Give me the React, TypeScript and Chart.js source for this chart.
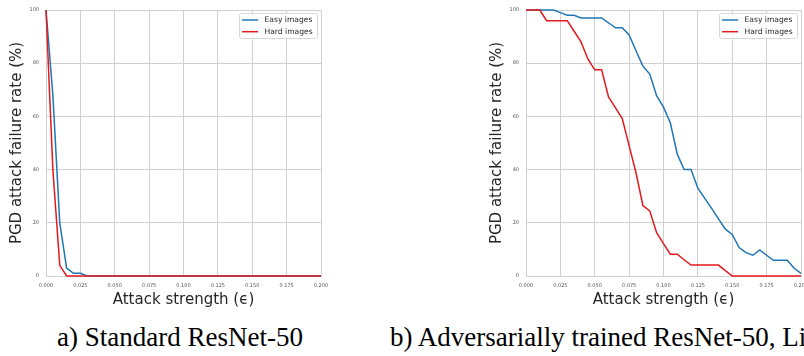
import React, { useEffect, useRef } from "react";
import { Chart, registerables } from "chart.js";

Chart.register(...registerables);

const epsilon = [
  0, 0.005, 0.01, 0.015, 0.02, 0.025, 0.03, 0.035, 0.04, 0.045, 0.05, 0.055,
  0.06, 0.065, 0.07, 0.075, 0.08, 0.085, 0.09, 0.095, 0.1, 0.105, 0.11, 0.115,
  0.12, 0.125, 0.13, 0.135, 0.14, 0.145, 0.15, 0.155, 0.16, 0.165, 0.17, 0.175,
  0.18, 0.185, 0.19, 0.195, 0.2,
];

const xTicks = [0, 0.025, 0.05, 0.075, 0.1, 0.125, 0.15, 0.175, 0.2];
const yTicks = [0, 20, 40, 60, 80, 100];

const seriesNames = ["Easy images", "Hard images"];

// a) Standard ResNet-50
const standardEasy = [
  100, 68, 20, 3, 1, 1, 0, 0, 0, 0, 0, 0, 0, 0, 0, 0, 0, 0, 0, 0, 0, 0, 0, 0,
  0, 0, 0, 0, 0, 0, 0, 0, 0, 0, 0, 0, 0, 0, 0, 0, 0,
];
const standardHard = [
  100, 40, 4, 0, 0, 0, 0, 0, 0, 0, 0, 0, 0, 0, 0, 0, 0, 0, 0, 0, 0, 0, 0, 0,
  0, 0, 0, 0, 0, 0, 0, 0, 0, 0, 0, 0, 0, 0, 0, 0, 0,
];

// b) Adversarially trained ResNet-50
const robustEasy = [
  100, 100, 100, 100, 100, 99, 98, 98, 97, 97, 97, 97, 95.2, 93.3, 93.3, 90.6,
  84.7, 78.9, 75.9, 67.8, 63.5, 57.5, 45.8, 40, 40, 33, 29.2, 25.4, 21.5, 17.6,
  15.6, 10.7, 8.8, 7.8, 9.8, 7.8, 5.9, 5.9, 5.9, 2.9, 1,
];
const robustHard = [
  100, 100, 100, 96, 96, 96, 96, 92, 88, 81.6, 77.5, 77.5, 67.3, 63.3, 59.2, 49,
  38.8, 26.5, 24.5, 16.3, 12.2, 8.2, 8.2, 6.1, 4.1, 4.1, 4.1, 4.1, 4.1, 2, 0, 0,
  0, 0, 0, 0, 0, 0, 0, 0, 0,
];

const captions = [
  "a) Standard ResNet-50",
  "b) Adversarially trained ResNet-50, Linf",
];

const BLUE = "#1f77b4";
const RED = "#e31a1c";
const GRID = "#d0d0d0";
const TEXT = "#262626";
const FONT = "'DejaVu Sans', sans-serif";

const CW = 340;
const CH = 316;

const legendPlugin = {
  id: "boxLegend",
  afterDraw(chart: any) {
    const { ctx, chartArea } = chart;
    const w = 78;
    const h = 25;
    const x = Math.round(chartArea.right - 4 - w);
    const y = Math.round(chartArea.top + 3);
    ctx.save();
    ctx.beginPath();
    if (ctx.roundRect) ctx.roundRect(x + 0.5, y + 0.5, w, h, 2);
    else ctx.rect(x + 0.5, y + 0.5, w, h);
    ctx.fillStyle = "rgba(255,255,255,0.85)";
    ctx.fill();
    ctx.strokeStyle = "#d8d8d8";
    ctx.lineWidth = 1;
    ctx.stroke();
    chart.data.datasets.forEach((ds: any, i: number) => {
      const cy = y + 7 + i * 11.7;
      ctx.beginPath();
      ctx.moveTo(x + 3, cy);
      ctx.lineTo(x + 19, cy);
      ctx.strokeStyle = ds.borderColor;
      ctx.lineWidth = 1.5;
      ctx.stroke();
      ctx.fillStyle = TEXT;
      ctx.font = `7.6px ${FONT}`;
      ctx.textBaseline = "middle";
      ctx.textAlign = "left";
      ctx.fillText(ds.label, x + 25.5, cy);
    });
    ctx.restore();
  },
};

function Panel({ easy, hard, left }: { easy: number[]; hard: number[]; left: number }) {
  const ref = useRef<HTMLCanvasElement | null>(null);
  useEffect(() => {
    if (!ref.current) return;
    const chart = new Chart(ref.current, {
      type: "line",
      data: {
        datasets: [
          {
            label: seriesNames[0],
            data: epsilon.map((e, i) => ({ x: e, y: easy[i] })),
            borderColor: BLUE,
            backgroundColor: BLUE,
            borderWidth: 1.5,
            pointRadius: 0,
            tension: 0,
            order: 1,
            clip: 4,
          },
          {
            label: seriesNames[1],
            data: epsilon.map((e, i) => ({ x: e, y: hard[i] })),
            borderColor: RED,
            backgroundColor: RED,
            borderWidth: 1.5,
            pointRadius: 0,
            tension: 0,
            order: 0,
            clip: 4,
          },
        ],
      },
      options: {
        responsive: false,
        animation: false,
        devicePixelRatio: 1,
        layout: { padding: { left: 0, top: 9, right: CW - 321, bottom: 0 } },
        plugins: { legend: { display: false }, tooltip: { enabled: false } },
        scales: {
          x: {
            type: "linear",
            min: 0,
            max: 0.2,
            afterFit: (s: any) => {
              s.height = CH - 276;
            },
            afterBuildTicks: (s: any) => {
              s.ticks = xTicks.map((v) => ({ value: v }));
            },
            ticks: {
              callback: (v: any) => Number(v).toFixed(3),
              font: { family: FONT, size: 5 },
              color: "#555",
              padding: 7,
              maxRotation: 0,
              autoSkip: false,
            },
            grid: { color: GRID, lineWidth: 1, drawTicks: false },
            border: { color: GRID, width: 1 },
            title: {
              display: true,
              text: "Attack strength (ϵ)",
              font: { family: FONT, size: 15 },
              color: TEXT,
              padding: { top: 0, bottom: 7 },
            },
          },
          y: {
            type: "linear",
            min: 0,
            max: 100,
            afterFit: (s: any) => {
              s.width = 46;
            },
            afterBuildTicks: (s: any) => {
              s.ticks = yTicks.map((v) => ({ value: v }));
            },
            ticks: {
              font: { family: FONT, size: 5 },
              color: "#555",
              padding: 7,
            },
            grid: { color: GRID, lineWidth: 1, drawTicks: false },
            border: { color: GRID, width: 1 },
            title: {
              display: true,
              text: "PGD attack failure rate (%)",
              font: { family: FONT, size: 15 },
              color: TEXT,
              padding: { top: 8.5, bottom: 0 },
            },
          },
        },
      },
      plugins: [legendPlugin],
    } as any);
    return () => chart.destroy();
  }, [easy, hard]);
  return (
    <canvas
      ref={ref}
      width={CW}
      height={CH}
      style={{ position: "absolute", left, top: 0, width: CW, height: CH }}
    />
  );
}

const captionStyle: React.CSSProperties = {
  position: "absolute",
  top: 324,
  fontFamily: "'Liberation Serif', 'Times New Roman', serif",
  fontSize: 27,
  lineHeight: "27px",
  color: "#000",
  whiteSpace: "nowrap",
};

export default function App() {
  return (
    <div
      style={{
        position: "fixed",
        left: 0,
        top: 0,
        width: 804,
        height: 356,
        overflow: "hidden",
        background: "#fff",
      }}
    >
      <Panel easy={standardEasy} hard={standardHard} left={0} />
      <Panel easy={robustEasy} hard={robustHard} left={480} />
      <div style={{ ...captionStyle, left: 57 }}>{captions[0]}</div>
      <div style={{ ...captionStyle, left: 390 }}>{captions[1]}</div>
    </div>
  );
}
